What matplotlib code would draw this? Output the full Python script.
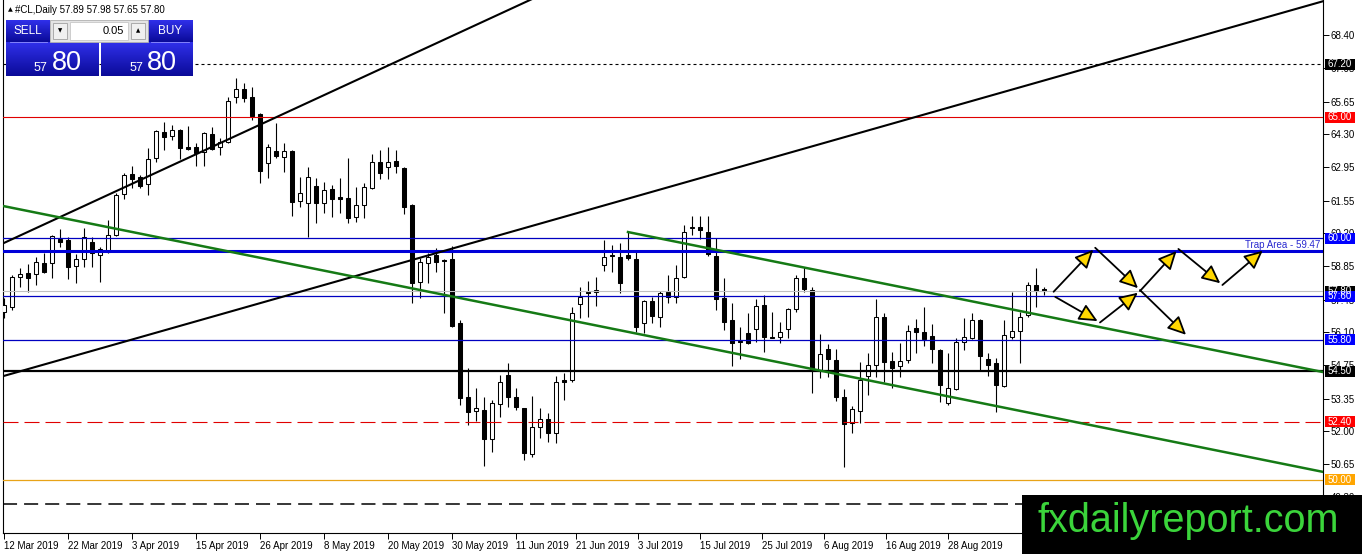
import matplotlib
matplotlib.use("Agg")
import matplotlib.pyplot as plt
import numpy as np
from matplotlib.patches import Rectangle
from matplotlib.colors import LinearSegmentedColormap
from matplotlib.transforms import blended_transform_factory

plt.rcParams['font.family'] = ['Liberation Sans', 'DejaVu Sans']

W, H = 1362, 554

# ─────────────────────────────────────────────
# #CL daily candles, from 12 Mar 2019
# ─────────────────────────────────────────────
opens = [56.94, 57.15, 58.39, 58.55, 58.51, 58.97, 58.97, 59.96, 59.92, 58.84,
         59.13, 59.84, 59.30, 59.42, 60.13, 61.82, 62.65, 62.53, 62.24, 63.31,
         64.39, 64.22, 64.47, 63.77, 63.77, 63.56, 64.30, 63.77, 63.97, 65.83,
         66.17, 65.83, 65.13, 63.10, 63.60, 63.35, 63.60, 61.53, 61.45, 62.15,
         61.45, 62.03, 61.70, 61.66, 60.87, 61.37, 62.07, 63.15, 62.94, 63.19,
         62.90, 61.37, 58.18, 58.97, 59.30, 59.09, 59.13, 56.49, 53.42, 52.84,
         52.88, 51.69, 53.13, 54.33, 53.42, 52.97, 51.07, 52.18, 52.51, 51.93,
         54.13, 54.13, 57.27, 57.77, 57.77, 58.88, 59.30, 59.22, 59.30, 59.13,
         56.49, 57.40, 56.73, 57.77, 57.56, 58.39, 60.42, 60.46, 60.25, 59.26,
         57.52, 56.61, 55.74, 56.07, 56.24, 57.23, 55.91, 55.91, 56.24, 57.06,
         58.35, 57.85, 54.50, 55.41, 54.95, 53.42, 52.35, 52.84, 54.29, 54.75,
         56.73, 54.91, 54.71, 54.95, 56.28, 56.11, 55.95, 55.37, 53.18, 53.75,
         55.70, 55.86, 56.61, 55.00, 54.83, 53.88, 55.91, 56.15, 56.82, 58.06,
         57.89]
highs = [57.52, 58.47, 58.76, 58.93, 59.22, 59.38, 60.13, 60.37, 60.04, 59.34,
         60.42, 60.04, 59.63, 60.75, 61.86, 62.69, 62.98, 62.61, 63.73, 64.47,
         64.80, 64.68, 64.50, 64.64, 63.93, 64.39, 64.59, 64.14, 65.83, 66.62,
         66.41, 66.25, 65.17, 63.89, 64.76, 63.93, 63.64, 62.53, 62.94, 62.48,
         62.32, 62.19, 62.48, 63.31, 62.11, 62.28, 63.48, 63.64, 63.77, 63.64,
         62.94, 61.40, 59.17, 59.38, 59.59, 59.13, 59.67, 56.61, 54.62, 53.80,
         53.42, 53.30, 54.33, 54.83, 53.80, 52.97, 53.47, 52.97, 52.76, 54.29,
         54.42, 57.15, 57.97, 58.22, 58.39, 59.92, 59.71, 59.79, 60.25, 59.42,
         57.44, 57.56, 57.81, 58.47, 58.88, 60.54, 60.91, 60.91, 60.91, 60.00,
         58.35, 57.31, 56.32, 56.90, 57.48, 57.64, 56.94, 56.53, 57.10, 58.47,
         58.80, 57.97, 56.03, 55.62, 55.41, 53.75, 53.05, 54.87, 55.24, 57.48,
         56.90, 55.29, 55.66, 56.40, 56.65, 57.15, 56.44, 55.41, 55.24, 55.86,
         56.69, 56.90, 56.65, 55.24, 55.04, 56.61, 57.77, 56.94, 58.18, 58.76,
         57.98]
lows = [56.69, 57.02, 57.97, 57.77, 58.06, 58.55, 58.35, 59.63, 58.31, 58.14,
        58.80, 58.80, 58.18, 59.38, 60.08, 61.62, 62.07, 62.07, 61.78, 63.15,
        63.64, 64.06, 63.27, 63.64, 62.98, 62.98, 63.64, 63.44, 63.93, 65.59,
        65.63, 64.88, 62.28, 62.48, 63.30, 62.73, 60.91, 61.28, 60.04, 60.62,
        61.04, 60.87, 61.04, 60.62, 60.66, 60.83, 62.03, 62.44, 62.44, 62.69,
        60.99, 57.31, 57.52, 58.14, 58.60, 56.90, 56.33, 53.09, 52.27, 52.43,
        50.57, 51.15, 52.60, 53.01, 52.89, 50.82, 50.94, 51.73, 51.56, 51.52,
        53.30, 54.04, 56.69, 56.73, 57.19, 58.64, 58.60, 57.73, 59.09, 56.11,
        56.07, 56.49, 56.32, 57.31, 57.31, 58.36, 60.13, 59.96, 59.26, 57.02,
        56.20, 54.71, 55.00, 55.62, 55.70, 55.29, 55.85, 55.66, 55.87, 56.94,
        57.77, 53.59, 54.21, 54.25, 53.26, 50.53, 51.93, 52.35, 53.51, 54.25,
        54.04, 53.80, 54.25, 54.83, 55.24, 55.53, 54.83, 53.22, 53.09, 53.72,
        55.37, 55.82, 54.54, 54.29, 52.80, 53.84, 55.82, 54.83, 56.73, 57.15,
        57.65]
closes = [57.23, 58.39, 58.51, 58.35, 59.01, 58.60, 60.08, 59.84, 58.80, 59.13,
          60.04, 59.38, 59.55, 60.13, 61.78, 62.61, 62.44, 62.15, 63.27, 64.43,
          64.18, 64.47, 63.73, 63.68, 63.52, 64.35, 63.68, 63.97, 65.67, 66.17,
          65.79, 65.05, 62.77, 63.77, 63.39, 63.60, 61.49, 61.86, 62.53, 61.45,
          61.99, 61.62, 61.62, 60.83, 61.37, 62.11, 63.15, 62.69, 63.15, 62.98,
          61.28, 58.14, 59.01, 59.22, 59.01, 59.05, 56.36, 53.38, 52.80, 52.97,
          51.69, 53.18, 54.04, 53.42, 53.01, 51.11, 52.18, 52.51, 51.93, 54.04,
          54.04, 56.90, 57.56, 57.73, 57.85, 59.22, 59.26, 58.14, 59.17, 56.32,
          57.40, 56.77, 57.73, 57.56, 58.35, 60.25, 60.46, 60.33, 59.34, 57.48,
          56.53, 55.66, 55.70, 55.66, 57.19, 55.91, 55.87, 56.11, 57.06, 58.35,
          57.89, 54.50, 55.20, 55.00, 53.42, 52.31, 52.93, 54.13, 54.75, 56.73,
          54.87, 54.62, 54.91, 56.15, 56.11, 55.82, 55.41, 53.92, 53.80, 55.70,
          55.91, 56.61, 55.12, 54.75, 53.92, 55.99, 56.15, 56.73, 58.06, 57.81,
          57.80]

date_labels = ["12 Mar 2019", "22 Mar 2019", "3 Apr 2019", "15 Apr 2019",
               "26 Apr 2019", "8 May 2019", "20 May 2019", "30 May 2019",
               "11 Jun 2019", "21 Jun 2019", "3 Jul 2019", "15 Jul 2019",
               "25 Jul 2019", "6 Aug 2019", "16 Aug 2019", "28 Aug 2019"]
date_bars = [0, 8, 16, 24, 32, 40, 48, 56, 64, 71.5, 79.25, 87, 94.75,
             102.5, 110.25, 118]

price_ticks = [68.40, 67.05, 65.65, 64.30, 62.95, 61.55, 60.20, 58.85,
               57.45, 56.10, 54.75, 53.35, 52.00, 50.65, 49.30]

# horizontal levels drawn on the chart
level_prices = [67.20, 65.00, 60.00, 59.47, 57.80, 57.60, 55.80, 54.50,
                52.40, 50.00, 49.00]
level_colors = ['black', '#e00000', '#0000c0', '#0000d8', '#c0c0c0',
                '#0000c0', '#0000c0', 'black', '#e00000', '#e8a317', 'black']
level_widths = [0.8, 0.8, 0.9, 2.2, 0.8, 0.9, 0.9, 1.6, 0.8, 0.9, 1.1]
level_styles = [(0, (2.7, 2.7)), '-', '-', '-', '-', '-', '-', '-',
                (0, (13.5, 5.4)), '-', (0, (9.2, 4.6))]

# price boxes on the right scale
tag_prices = [67.20, 65.00, 60.00, 57.80, 57.60, 55.80, 54.50, 52.40, 50.00]
tag_colors = ['black', '#ff0000', '#0000ff', 'black', '#0000ff', '#0000ff',
              'black', '#ff0000', '#ffa500']

# trend lines (bar index, price)
black_long_x, black_long_y = [0, 165], [54.30, 69.81]
black_steep_x, black_steep_y = [0, 70], [59.80, 70.50]
green_long_x, green_long_y = [0, 165], [61.32, 50.32]
green_upper_x, green_upper_y = [78, 165], [60.25, 54.45]

# projected paths with arrows
path_a_x = [131.2, 136.4, 142.0, 148.0]
path_a_y = [57.78, 59.60, 57.85, 55.92]
path_b_x = [131.4, 137.0, 142.0, 146.8, 152.3, 157.6]
path_b_y = [57.57, 56.51, 57.81, 59.55, 58.06, 59.55]

header = "#CL,Daily 57.89 57.98 57.65 57.80"

# ─────────────────────────────────────────────
fig = plt.figure(figsize=(W / 100, H / 100), dpi=100)
fig.patch.set_facecolor('white')
ax = fig.add_axes([3 / W, 21 / H, 1320 / W, 533 / H])
ax.set_xlim(-0.125, 164.875)
ax.set_ylim(47.80, 69.85)

# candles
idx = np.arange(len(opens))
o, h, l, c = map(np.array, (opens, highs, lows, closes))
ax.vlines(idx, l, h, color='black', lw=0.8, zorder=2)
up = c >= o
body_lo = np.minimum(o, c)
body_h = np.maximum(np.abs(c - o), 0.02)
ax.bar(idx[up], body_h[up], bottom=body_lo[up], width=0.62,
       color='white', edgecolor='black', linewidth=0.75, zorder=3)
ax.bar(idx[~up], body_h[~up], bottom=body_lo[~up], width=0.62,
       color='black', edgecolor='black', linewidth=0.75, zorder=3)

# levels
for p, col, lw, ls in zip(level_prices, level_colors, level_widths, level_styles):
    ax.axhline(p, color=col, lw=lw, linestyle=ls, zorder=4)

ax.text(164.5, 59.52, "Trap Area - 59.47", color='#2a2ad0', fontsize=7,
        ha='right', va='bottom', zorder=5)

# trend lines
ax.plot(black_long_x, black_long_y, color='black', lw=1.5, zorder=4)
ax.plot(black_steep_x, black_steep_y, color='black', lw=1.5, zorder=4)
ax.plot(green_long_x, green_long_y, color='#157a15', lw=1.8, zorder=4)
ax.plot(green_upper_x, green_upper_y, color='#157a15', lw=1.8, zorder=4)

# arrows
for px, py in ((path_a_x, path_a_y), (path_b_x, path_b_y)):
    for i in range(len(px) - 1):
        ax.annotate('', xy=(px[i + 1], py[i + 1]), xytext=(px[i], py[i]),
                    arrowprops=dict(arrowstyle='-|>,head_length=0.8,head_width=0.38',
                                    fc='#ffd700', ec='black', lw=1.3,
                                    mutation_scale=14, shrinkA=0, shrinkB=2),
                    zorder=6)

# axes look
ax.spines['top'].set_visible(False)
for side in ('left', 'right', 'bottom'):
    ax.spines[side].set_linewidth(0.8)
ax.yaxis.tick_right()
ax.set_yticks(price_ticks)
ax.set_yticklabels([f"{v:.2f}" for v in price_ticks])
ax.tick_params(axis='y', direction='out', length=4, width=0.7, pad=1.5,
               labelsize=7)
ax.set_xticks(date_bars)
ax.set_xticklabels(date_labels, ha='left')
ax.tick_params(axis='x', direction='out', length=4, width=0.7, pad=1.5,
               labelsize=7)

# coloured price tags on the right scale
tr = blended_transform_factory(ax.transAxes, ax.transData)
box_w = 30 / 1320
box_h = 11 / (533 / (69.85 - 47.80))
for p, col in zip(tag_prices, tag_colors):
    ax.add_patch(Rectangle((1.0015, p - box_h / 2), box_w, box_h, transform=tr,
                           facecolor=col, edgecolor='none', clip_on=False,
                           zorder=7))
    ax.text(1.0015 + box_w / 2, p, f"{p:.2f}", transform=tr, color='white',
            fontsize=7, ha='center', va='center', clip_on=False, zorder=8)

# ─────────────────────────────────────────────
# overlay in pixel coordinates: trade panel, header, logo
ov = fig.add_axes([0, 0, 1, 1], zorder=10)
ov.axis('off')
blue = LinearSegmentedColormap.from_list('btn', ['#3030ea', '#0a0a98'])
grad = np.linspace(0, 1, 64)[:, None]
for x0, x1, y0, y1 in ((6, 50, 20, 42), (148, 193, 20, 42),
                       (6, 99, 42, 76), (101, 193, 42, 76)):
    ov.imshow(grad, extent=[x0, x1, y1, y0], cmap=blue, aspect='auto')
ov.add_patch(Rectangle((50, 20), 98, 22, facecolor='#e4e4e4', edgecolor='#b0b0b0', lw=0.6))
ov.add_patch(Rectangle((53, 23), 14, 16, facecolor='#f0f0f0', edgecolor='#a0a0a0', lw=0.6))
ov.add_patch(Rectangle((70, 22), 58, 18, facecolor='white', edgecolor='#c8c8c8', lw=0.6))
ov.add_patch(Rectangle((131, 23), 14, 16, facecolor='#f0f0f0', edgecolor='#a0a0a0', lw=0.6))
ov.text(60, 31, "▼", fontsize=4, ha='center', va='center', color='black',
        family=['DejaVu Sans'])
ov.text(138, 31, "▲", fontsize=4, ha='center', va='center', color='black',
        family=['DejaVu Sans'])
ov.text(124, 31, "0.05", fontsize=8, ha='right', va='center', color='black')
ov.plot([10, 47], [42, 42], color='#9090ff', lw=0.6)
ov.plot([151, 189], [42, 42], color='#9090ff', lw=0.6)
ov.text(28, 31, "SELL", fontsize=8.5, ha='center', va='center', color='white')
ov.text(170, 31, "BUY", fontsize=8.5, ha='center', va='center', color='white')
ov.text(47, 71, "57", fontsize=9, ha='right', va='baseline', color='white')
ov.text(52, 70.5, "80", fontsize=19.5, ha='left', va='baseline', color='white')
ov.text(143, 71, "57", fontsize=9, ha='right', va='baseline', color='white')
ov.text(147, 70.5, "80", fontsize=19.5, ha='left', va='baseline', color='white')

ov.text(10, 10, "▲", fontsize=4.5, ha='center', va='center', color='black',
        family=['DejaVu Sans'])
ov.text(15, 10, header, fontsize=7, ha='left', va='center', color='black')

ov.add_patch(Rectangle((1022, 495), 340, 59, facecolor='black', edgecolor='none'))
ov.text(1038, 532, "fxdailyreport.com", fontsize=28.5, color='#3bd43b',
        ha='left', va='baseline')

ov.set_xlim(0, W)
ov.set_ylim(H, 0)

fig.savefig("out.png", dpi=100)
